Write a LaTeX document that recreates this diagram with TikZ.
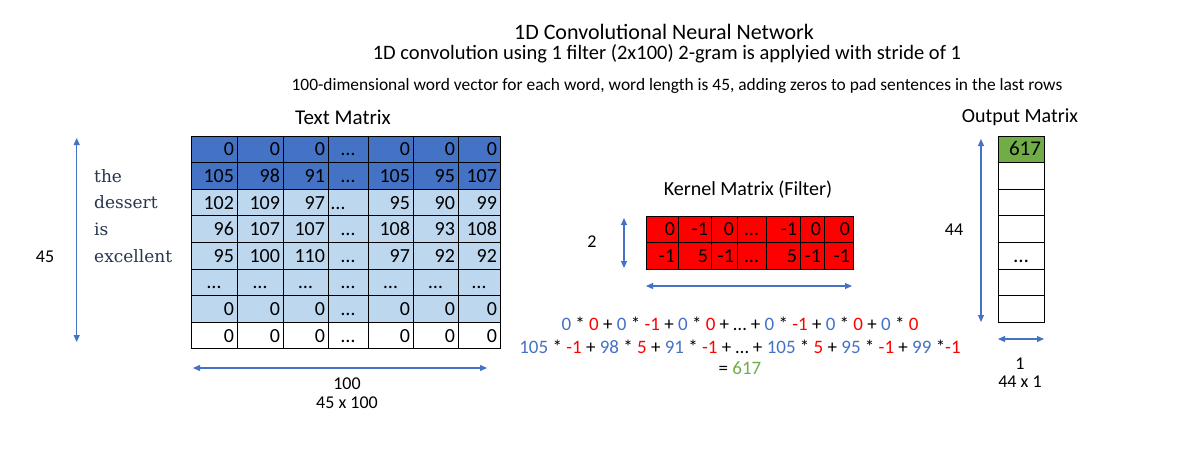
\documentclass[tikz,border=0pt]{standalone}
\usepackage{fontspec}
\setmainfont{Carlito}
\newfontfamily\wordfont{DejaVu Serif}
\usetikzlibrary{arrows.meta}
\definecolor{dblue}{HTML}{4472C4}
\definecolor{lblue}{HTML}{BDD7EE}
\definecolor{kred}{HTML}{FF0000}
\definecolor{ogreen}{HTML}{70AD47}
\definecolor{arrowblue}{HTML}{4472C4}
\definecolor{wordcol}{HTML}{26364F}
\definecolor{eqblue}{HTML}{4472C4}
\definecolor{eqred}{HTML}{FF0000}
\newcommand{\dd}{\makebox[\hsize][c]{…}}
\newcommand{\dl}{\makebox[\hsize][l]{…}}
\newcommand{\numB}[1]{\textcolor{eqblue}{#1}}
\newcommand{\numR}[1]{\textcolor{eqred}{#1}}
\newcommand{\numG}[1]{\textcolor{ogreen}{#1}}
\begin{document}
\begin{tikzpicture}[x=1pt,y=-1pt,
  cellbox/.style={draw=black, line width=0.8pt, inner xsep=3pt, inner ysep=0pt, align=right,
    font=\fontsize{20}{20}\selectfont, text height=13pt, text depth=0pt, minimum height=26.6pt, anchor=center},
  dimarrow/.style={draw=arrowblue, line width=1.1pt, {Triangle[width=6pt,length=7pt]}-{Triangle[width=6pt,length=7pt]}},
  lbl/.style={font=\fontsize{18}{18}\selectfont, inner sep=0pt},
  heading/.style={font=\fontsize{20}{20}\selectfont, inner sep=0pt},
  word/.style={font=\wordfont\fontsize{17}{17}\selectfont, text=wordcol, inner sep=0pt, anchor=west},
  eqline/.style={font=\fontsize{19}{19}\selectfont, inner sep=0pt}
]
\useasboundingbox[fill=white] (0,0) rectangle (1200,475);

% titles
\node[font=\fontsize{22}{22}\selectfont, inner sep=0pt] (title) at (664,32) {1D Convolutional Neural Network};
\node[font=\fontsize{20.5}{20.5}\selectfont, inner sep=0pt] (subtitle) at (667,54) {1D convolution using 1 filter (2x100) 2-gram is applyied with stride of 1};
\node[font=\fontsize{17.4}{17.4}\selectfont, inner sep=0pt] (desc) at (677,86) {100-dimensional word vector for each word, word length is 45, adding zeros to pad sentences in the last rows};

% text matrix
\node[heading, font=\fontsize{21}{21}\selectfont] (tmtitle) at (343,117) {Text Matrix};
\foreach \r/\fc/\vals in {1/dblue/{0,0,0,\dd,0,0,0}, 2/dblue/{105,98,91,\dd,105,95,107},
  3/lblue/{102,109,97,\dl,95,90,99}, 4/lblue/{96,107,107,\dd,108,93,108},
  5/lblue/{95,100,110,\dd,97,92,92}, 6/lblue/{\dd,\dd,\dd,\dd,\dd,\dd,\dd},
  7/lblue/{0,0,0,\dd,0,0,0}, 8/white/{0,0,0,\dd,0,0,0}}{
  \foreach \v [count=\c] in \vals {
    \pgfmathsetmacro\xl{{191,237,283,328,368,413,458,500}[\c-1]}
    \pgfmathsetmacro\xr{{191,237,283,328,368,413,458,500}[\c]}
    \pgfmathsetmacro\yc{136+26.6*(\r-0.5)}
    \pgfmathsetmacro\w{\xr-\xl}
    \pgfmathsetmacro\tw{\xr-\xl-6}
    \pgfmathsetmacro\xc{(\xl+\xr)/2}
    \node[cellbox, fill=\fc, minimum width=\w pt, text width=\tw pt] (t-\r-\c) at (\xc,\yc) {\v};
  }
}
\node[word] (w1) at (94,176) {the};
\node[word] (w2) at (94,202.6) {dessert};
\node[word] (w3) at (94,229.2) {is};
\node[word] (w4) at (94,255.8) {excellent};

\coordinate (tl-top) at (76.7,138);
\coordinate (tl-bot) at (76.7,342);
\draw[dimarrow] (tl-top) -- (tl-bot);
\node[lbl] (l45) at (45,257) {45};
\coordinate (tb-left) at (193,368);
\coordinate (tb-right) at (487,368);
\draw[dimarrow] (tb-left) -- (tb-right);
\node[lbl] (l100) at (347,384) {100};
\node[lbl] (l45x100) at (347,403) {45 x 100};

% kernel
\node[heading] (kmtitle) at (748,190) {Kernel Matrix (Filter)};
\foreach \r/\vals in {1/{0,-1,0,\dd,-1,0,0}, 2/{-1,5,-1,\dd,5,-1,-1}}{
  \foreach \v [count=\c] in \vals {
    \pgfmathsetmacro\xl{{646,678,711,737,766,800,824,853}[\c-1]}
    \pgfmathsetmacro\xr{{646,678,711,737,766,800,824,853}[\c]}
    \pgfmathsetmacro\yc{216+26.6*(\r-0.5)}
    \pgfmathsetmacro\w{\xr-\xl}
    \pgfmathsetmacro\tw{\xr-\xl-6}
    \pgfmathsetmacro\xc{(\xl+\xr)/2}
    \node[cellbox, fill=kred, minimum width=\w pt, text width=\tw pt] (k-\r-\c) at (\xc,\yc) {\v};
  }
}
\coordinate (kv-top) at (624,218);
\coordinate (kv-bot) at (624,268);
\draw[dimarrow] (kv-top) -- (kv-bot);
\node[lbl] (l2) at (592,242) {2};
\coordinate (kh-left) at (646,286);
\coordinate (kh-right) at (852,286);
\draw[dimarrow] (kh-left) -- (kh-right);

% equation
\node[eqline] (eq1) at (740,324) {\numB{0} * \numR{0} + \numB{0} * \numR{-1} + \numB{0} * \numR{0} + … + \numB{0} * \numR{-1} + \numB{0} * \numR{0} + \numB{0} * \numR{0}};
\node[eqline] (eq2) at (740,347) {\numB{105} * \numR{-1} + \numB{98} * \numR{5} + \numB{91} * \numR{-1} + … + \numB{105} * \numR{5} + \numB{95} * \numR{-1} + \numB{99} *\numR{-1}};
\node[eqline] (eq3) at (740,368) {= \numG{617}};

% output
\node[heading] (omtitle) at (1020,117) {Output Matrix};
\foreach \r/\fc/\v in {1/ogreen/617, 2/white/{}, 3/white/{}, 4/white/{}, 5/white/\dd, 6/white/{}, 7/white/{}}{
  \pgfmathsetmacro\yc{136+26.6*(\r-0.5)}
  \node[cellbox, fill=\fc, minimum width=46pt, text width=40pt, font=\fontsize{21}{21}\selectfont] (o-\r) at (1021,\yc) {\v};
}
\coordinate (ov-top) at (981,139);
\coordinate (ov-bot) at (981,322);
\draw[dimarrow] (ov-top) -- (ov-bot);
\node[lbl] (l44) at (954,230) {44};
\coordinate (oh-left) at (998,339);
\coordinate (oh-right) at (1044,339);
\draw[dimarrow] (oh-left) -- (oh-right);
\node[lbl] (l1) at (1020,364) {1};
\node[lbl] (l44x1) at (1020,382) {44 x 1};
\end{tikzpicture}
\end{document}
